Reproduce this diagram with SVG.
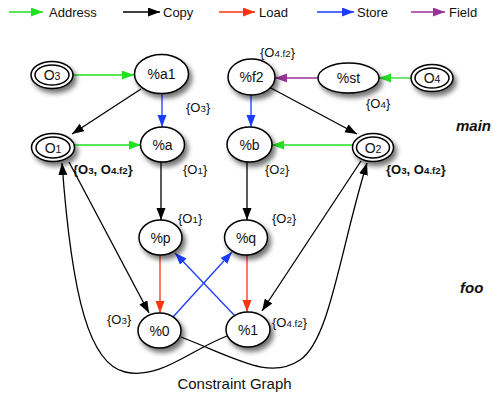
<svg xmlns="http://www.w3.org/2000/svg" width="493" height="393" viewBox="0 0 493 393">
<defs>
<style>
text{font-family:"Liberation Sans",Arial,sans-serif;fill:#111}
.lg{font-size:13px}
.nl{font-size:14px;text-anchor:middle}
.lb{font-size:13px}
.bd{font-size:13px;font-weight:bold}
.sec{font-size:15px;font-weight:bold;font-style:italic}
.sub{font-size:75%}
.node{fill:#fff;stroke:#000;stroke-width:1.5}
.e{fill:none;stroke-width:1.3}
.k{stroke:#000}
.g{stroke:#22e022}
.r{stroke:#ff3311}
.b{stroke:#1a3cff}
.p{stroke:#993399}
</style>
<filter id="sh" x="-30%" y="-30%" width="170%" height="180%">
<feDropShadow dx="3" dy="4" stdDeviation="2.5" flood-color="#000" flood-opacity="0.55"/>
</filter>
<marker id="ak" markerUnits="userSpaceOnUse" markerWidth="13" markerHeight="10" refX="12" refY="4.5" orient="auto"><path d="M0,0 L12,4.5 L0,9 z" fill="#000"/></marker>
<marker id="ag" markerUnits="userSpaceOnUse" markerWidth="13" markerHeight="10" refX="12" refY="4.5" orient="auto"><path d="M0,0 L12,4.5 L0,9 z" fill="#22e022"/></marker>
<marker id="ar" markerUnits="userSpaceOnUse" markerWidth="13" markerHeight="10" refX="12" refY="4.5" orient="auto"><path d="M0,0 L12,4.5 L0,9 z" fill="#ff3311"/></marker>
<marker id="ab" markerUnits="userSpaceOnUse" markerWidth="13" markerHeight="10" refX="12" refY="4.5" orient="auto"><path d="M0,0 L12,4.5 L0,9 z" fill="#1a3cff"/></marker>
<marker id="ap" markerUnits="userSpaceOnUse" markerWidth="13" markerHeight="10" refX="12" refY="4.5" orient="auto"><path d="M0,0 L12,4.5 L0,9 z" fill="#993399"/></marker>
</defs>
<rect width="493" height="393" fill="#fff"/>

<g id="legend">
<line class="e g" x1="9" y1="12" x2="43" y2="12" marker-end="url(#ag)"/>
<text class="lg" x="49" y="17">Address</text>
<line class="e k" x1="123" y1="12" x2="160" y2="12" marker-end="url(#ak)"/>
<text class="lg" x="163" y="17">Copy</text>
<line class="e r" x1="219" y1="12" x2="255" y2="12" marker-end="url(#ar)"/>
<text class="lg" x="259" y="17">Load</text>
<line class="e b" x1="317" y1="12" x2="354" y2="12" marker-end="url(#ab)"/>
<text class="lg" x="357" y="17">Store</text>
<line class="e p" x1="411" y1="12" x2="445" y2="12" marker-end="url(#ap)"/>
<text class="lg" x="449" y="17">Field</text>
</g>

<g id="connectors">
<line class="e g" x1="73" y1="75" x2="134" y2="75" marker-end="url(#ag)"/>
<line class="e k" x1="141" y1="89" x2="72" y2="134" marker-end="url(#ak)"/>
<line class="e b" x1="162" y1="93" x2="162" y2="127" marker-end="url(#ab)"/>
<line class="e g" x1="75" y1="145" x2="141" y2="145" marker-end="url(#ag)"/>
<line class="e k" x1="161" y1="162" x2="161" y2="220" marker-end="url(#ak)"/>
<line class="e b" x1="251" y1="95" x2="251" y2="127" marker-end="url(#ab)"/>
<line class="e k" x1="269" y1="87" x2="357" y2="134" marker-end="url(#ak)"/>
<line class="e p" x1="318" y1="78" x2="275" y2="78" marker-end="url(#ap)"/>
<line class="e g" x1="411" y1="78" x2="379" y2="78" marker-end="url(#ag)"/>
<line class="e g" x1="353" y1="145" x2="272" y2="145" marker-end="url(#ag)"/>
<line class="e k" x1="247" y1="162" x2="247" y2="220" marker-end="url(#ak)"/>
<line class="e r" x1="160" y1="255" x2="160" y2="313" marker-end="url(#ar)"/>
<line class="e r" x1="247" y1="255" x2="247" y2="312" marker-end="url(#ar)"/>
<line class="e b" x1="173" y1="317" x2="232" y2="252" marker-end="url(#ab)"/>
<line class="e b" x1="235" y1="316" x2="175" y2="253" marker-end="url(#ab)"/>
<line class="e k" x1="69" y1="162" x2="149" y2="313" marker-end="url(#ak)"/>
<line class="e k" x1="361" y1="161" x2="262" y2="311" marker-end="url(#ak)"/>
<path class="e k" d="M227,336 C190,350 160,380 125,372 C90,364 72,300 62,163" marker-end="url(#ak)"/>
<path class="e k" d="M181,337 C240,360 270,380 300,360 C330,340 340,250 367,163" marker-end="url(#ak)"/>
</g>

<g id="n-O3"><ellipse class="node" filter="url(#sh)" cx="52" cy="75" rx="21" ry="13.5"/><ellipse class="node" cx="52" cy="75" rx="17" ry="10"/><text class="nl" x="52" y="80">O<tspan class="sub">3</tspan></text></g>
<g id="n-a1"><ellipse class="node" filter="url(#sh)" cx="161.5" cy="74" rx="27" ry="19.5"/><text class="nl" x="161.5" y="79">%a1</text></g>
<g id="n-f2"><ellipse class="node" filter="url(#sh)" cx="251.5" cy="77" rx="23.5" ry="18"/><text class="nl" x="251.5" y="82">%f2</text></g>
<g id="n-st"><ellipse class="node" filter="url(#sh)" cx="348.5" cy="78" rx="30.5" ry="15"/><text class="nl" x="348.5" y="83">%st</text></g>
<g id="n-O4"><ellipse class="node" filter="url(#sh)" cx="432" cy="78" rx="21" ry="13.5"/><ellipse class="node" cx="432" cy="78" rx="17" ry="10"/><text class="nl" x="432" y="83">O<tspan class="sub">4</tspan></text></g>
<g id="n-O1"><ellipse class="node" filter="url(#sh)" cx="53" cy="147.5" rx="21.5" ry="14"/><ellipse class="node" cx="53" cy="147.5" rx="17" ry="10.5"/><text class="nl" x="53" y="152.5">O<tspan class="sub">1</tspan></text></g>
<g id="n-a"><ellipse class="node" filter="url(#sh)" cx="162.5" cy="144.5" rx="22" ry="17.5"/><text class="nl" x="162.5" y="149.5">%a</text></g>
<g id="n-b"><ellipse class="node" filter="url(#sh)" cx="249.5" cy="144.5" rx="22.5" ry="17.5"/><text class="nl" x="249.5" y="149.5">%b</text></g>
<g id="n-O2"><ellipse class="node" filter="url(#sh)" cx="373" cy="147.5" rx="20.5" ry="14"/><ellipse class="node" cx="373" cy="147.5" rx="16.5" ry="10.5"/><text class="nl" x="373" y="152.5">O<tspan class="sub">2</tspan></text></g>
<g id="n-p"><ellipse class="node" filter="url(#sh)" cx="160.5" cy="237.5" rx="21.5" ry="17.5"/><text class="nl" x="160.5" y="242.5">%p</text></g>
<g id="n-q"><ellipse class="node" filter="url(#sh)" cx="246" cy="237.5" rx="21.5" ry="17.5"/><text class="nl" x="246" y="242.5">%q</text></g>
<g id="n-0"><ellipse class="node" filter="url(#sh)" cx="159.5" cy="330.5" rx="21.5" ry="17.5"/><text class="nl" x="159.5" y="335.5">%0</text></g>
<g id="n-1"><ellipse class="node" filter="url(#sh)" cx="248" cy="329.5" rx="22" ry="17.5"/><text class="nl" x="248" y="334.5">%1</text></g>

<g id="labels">
<text class="lb" x="186" y="112">{O<tspan class="sub">3</tspan>}</text>
<text class="lb" x="260" y="57">{O<tspan class="sub">4.f2</tspan>}</text>
<text class="lb" x="366" y="108">{O<tspan class="sub">4</tspan>}</text>
<text class="bd" x="73" y="174">{O<tspan class="sub">3</tspan>, O<tspan class="sub">4.f2</tspan>}</text>
<text class="lb" x="183" y="174">{O<tspan class="sub">1</tspan>}</text>
<text class="lb" x="265" y="174">{O<tspan class="sub">2</tspan>}</text>
<text class="bd" x="386" y="174">{O<tspan class="sub">3</tspan>, O<tspan class="sub">4.f2</tspan>}</text>
<text class="lb" x="178" y="223">{O<tspan class="sub">1</tspan>}</text>
<text class="lb" x="272" y="223">{O<tspan class="sub">2</tspan>}</text>
<text class="lb" x="107" y="324">{O<tspan class="sub">3</tspan>}</text>
<text class="lb" x="272" y="327">{O<tspan class="sub">4.f2</tspan>}</text>
<text class="sec" x="456" y="131">main</text>
<text class="sec" x="460" y="293">foo</text>
<text x="234.5" y="389" font-size="15" text-anchor="middle">Constraint Graph</text>
</g>
</svg>
